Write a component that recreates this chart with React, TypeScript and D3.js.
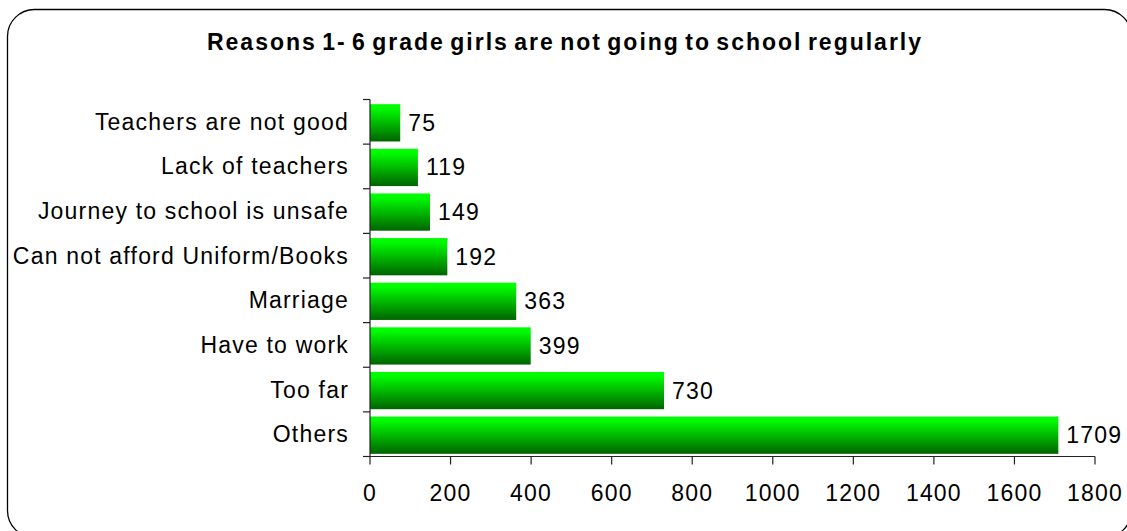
import React from 'react';
import * as d3 from 'd3';

const categories = [
    'Teachers are not good',
    'Lack of teachers',
    'Journey to school is unsafe',
    'Can not afford Uniform/Books',
    'Marriage',
    'Have to work',
    'Too far',
    'Others',
];
const counts = [75, 119, 149, 192, 363, 399, 730, 1709];
const xTicks = [0, 200, 400, 600, 800, 1000, 1200, 1400, 1600, 1800];
const title = 'Reasons 1- 6 grade girls are not going to school regularly';

const W = 1127;
const H = 531;
const font = '"Liberation Sans", Arial, sans-serif';

const App: React.FC = () => {
    // Plotbereich
    const left = 370;
    const right = 1095;
    const top = 99.5;
    const bottom = 456.5;

    const x = d3.scaleLinear().domain([0, 1800]).range([left, right]);
    const y = d3.scaleBand<string>()
        .domain(categories)
        .range([top, bottom])
        .padding(0);
    const step = y.step();
    // Balken sitzen etwas tiefer im Band (wie im Original)
    const barOff = step * 0.105;
    const barH = step * 0.835;

    return (
        <svg width={W} height={H} style={{position: 'absolute', left: 0, top: 0}}>
            <defs>
                <linearGradient id="barGrad" x1="0" y1="0" x2="0" y2="1">
                    <stop offset="0%" stopColor="#00ff00"/>
                    <stop offset="12%" stopColor="#00fa00"/>
                    <stop offset="100%" stopColor="#006400"/>
                </linearGradient>
            </defs>
            <rect x={7.5} y={9.5} width={1124} height={528} rx={27} ry={27}
                  fill="#fff" stroke="#000" strokeWidth={1.3}/>
            <text x={565} y={50} textAnchor="middle" fontFamily={font} fontWeight="bold"
                  fontSize={23} letterSpacing={2} wordSpacing={-3}>{title}</text>

            {/* Balken */}
            {categories.map((c, i) => {
                const yc = y(c)! + barOff;
                return (
                    <g key={c}>
                        <rect x={x(0)} y={yc} width={x(counts[i]) - x(0)} height={barH}
                              fill="url(#barGrad)"/>
                        <text x={x(counts[i]) + 8} y={yc + barH / 2 + 8} fontFamily={font}
                              fontSize={23} letterSpacing={1.2}>{counts[i]}</text>
                        <text x={349} y={y(c)! + step / 2 + 8} textAnchor="end"
                              fontFamily={font} fontSize={23} letterSpacing={1.2}>{c}</text>
                    </g>
                );
            })}

            {/* Y-Achse */}
            <line x1={left} x2={left} y1={top} y2={bottom} stroke="#222" strokeWidth={1.2}/>
            {d3.range(categories.length + 1).map(i => (
                <line key={i} x1={left - 7} x2={left} y1={top + i * step} y2={top + i * step}
                      stroke="#222" strokeWidth={1.2}/>
            ))}

            {/* X-Achse */}
            <line x1={left} x2={right} y1={bottom} y2={bottom} stroke="#222" strokeWidth={1.2}/>
            {xTicks.map(t => (
                <g key={t}>
                    <line x1={x(t)} x2={x(t)} y1={bottom} y2={bottom + 8}
                          stroke="#222" strokeWidth={1.2}/>
                    <text x={x(t)} y={501} textAnchor="middle" fontFamily={font} fontSize={23}
                          letterSpacing={1.2}>{t}</text>
                </g>
            ))}
        </svg>
    );
};

export default App;
